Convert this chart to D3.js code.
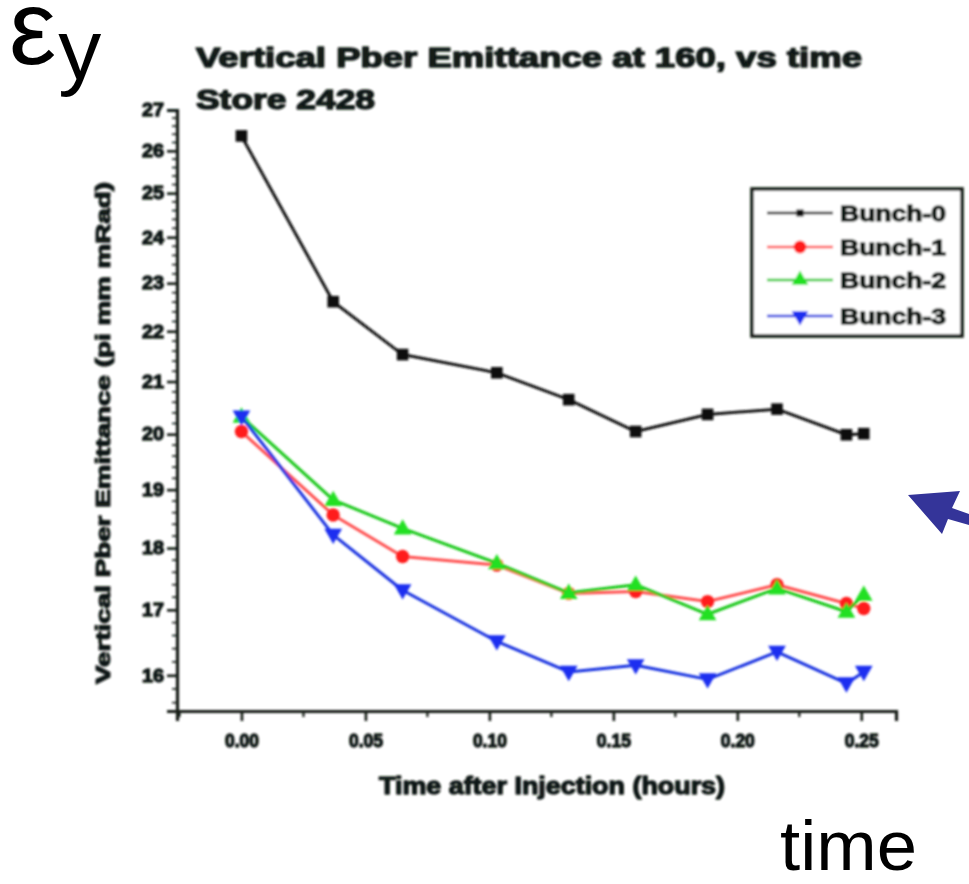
<!DOCTYPE html>
<html>
<head>
<meta charset="utf-8">
<script src="https://cdn.jsdelivr.net/npm/d3@7"></script>
<style>
  html, body { margin: 0; padding: 0; background: #ffffff; }
  svg { display: block; }
</style>
</head>
<body>
<svg id="chart" width="969" height="884"></svg>
<script>
// Measurement times (hours after injection)
const times = [0.000, 0.037, 0.065, 0.103, 0.132, 0.159, 0.188, 0.216, 0.244, 0.251];

// Vertical emittance per bunch (pi mm mRad)
const bunch0 = [26.36, 22.61, 21.53, 21.17, 20.65, 20.05, 20.37, 20.47, 19.99, 20.01];
const bunch1 = [20.05, 18.56, 17.86, 17.72, 17.26, 17.29, 17.13, 17.40, 17.10, 17.02];
const bunch2 = [20.33, 18.82, 18.33, 17.75, 17.27, 17.40, 16.93, 17.34, 16.97, 17.24];
const bunch3 = [20.33, 18.22, 17.31, 16.51, 16.05, 16.15, 15.94, 16.35, 15.88, 16.05];

const seriesNames = ["Bunch-0", "Bunch-1", "Bunch-2", "Bunch-3"];
const xTickValues = [0.00, 0.05, 0.10, 0.15, 0.20, 0.25];
const xTickLabels = ["0.00", "0.05", "0.10", "0.15", "0.20", "0.25"];
const yTickValues = [16, 17, 18, 19, 20, 21, 22, 23, 24, 25, 26, 27];

const titleLines = ["Vertical Pber Emittance  at 160, vs time", "Store 2428"];
const xTitle = "Time after Injection (hours)";
const yTitle = "Vertical Pber Emittance (pi mm mRad)";

const svg = d3.select("#chart");
const ink = "#121a14";
const font = "'Liberation Sans', Arial, sans-serif";

// Soft focus for the plotted figure
const defs = svg.append("defs");
defs.append("filter").attr("id", "soft")
  .attr("x", "-5%").attr("y", "-5%").attr("width", "110%").attr("height", "110%")
  .append("feGaussianBlur").attr("stdDeviation", 1.0);

const fig = svg.append("g").attr("filter", "url(#soft)");

// Heavy type used throughout the figure
function heavy(sel, size, strokeW) {
  return sel.attr("font-family", font).attr("font-weight", "bold").attr("font-size", size)
    .attr("fill", ink).attr("stroke", ink).attr("stroke-width", strokeW)
    .attr("stroke-linejoin", "round");
}

// Scales: linear time axis, logarithmic emittance axis
const x = d3.scaleLinear().domain([-0.026, 0.264]).range([177, 896]);
const y = d3.scaleLog().domain([15.48, 27]).range([711, 110]);

// Title
heavy(fig.append("text").attr("x", 196).attr("y", 67), 28, 1.5)
  .attr("textLength", 666).attr("lengthAdjust", "spacingAndGlyphs")
  .text(titleLines[0]);
heavy(fig.append("text").attr("x", 196).attr("y", 109), 28, 1.5)
  .attr("textLength", 179).attr("lengthAdjust", "spacingAndGlyphs")
  .text(titleLines[1]);

// Y axis (log): major ticks with labels, minor ticks between
const yMinor = d3.range(15.6, 27.0001, 0.2).filter(v => Math.abs(v - Math.round(v)) > 0.01);
const yAxisG = fig.append("g").attr("transform", "translate(177,0)");
yAxisG.selectAll("line.minor").data(yMinor).join("line")
  .attr("class", "minor")
  .attr("x1", -5).attr("x2", 0)
  .attr("y1", d => y(d)).attr("y2", d => y(d))
  .attr("stroke", ink).attr("stroke-width", 1.6);
const yAxis = d3.axisLeft(y).tickValues(yTickValues).tickFormat(d3.format("d"))
  .tickSize(10).tickPadding(3);
yAxisG.call(yAxis);
yAxisG.select(".domain").attr("stroke", ink).attr("stroke-width", 3.2);
yAxisG.selectAll(".tick line").attr("stroke", ink).attr("stroke-width", 2.6);
heavy(yAxisG.selectAll(".tick text"), 18, 1.3)
  .attr("textLength", 22).attr("lengthAdjust", "spacingAndGlyphs");

// X axis: major ticks with labels and one minor tick between
const xMinor = d3.range(-0.025, 0.264, 0.05);
const xAxisG = fig.append("g").attr("transform", "translate(0,711)");
xAxisG.selectAll("line.minor").data(xMinor).join("line")
  .attr("class", "minor")
  .attr("x1", d => x(d)).attr("x2", d => x(d))
  .attr("y1", 0).attr("y2", 6)
  .attr("stroke", ink).attr("stroke-width", 2.2);
const xAxis = d3.axisBottom(x).tickValues(xTickValues)
  .tickFormat((d, i) => xTickLabels[i]).tickSize(10).tickPadding(13);
xAxisG.call(xAxis);
xAxisG.select(".domain").attr("stroke", ink).attr("stroke-width", 3.2);
xAxisG.selectAll(".tick line").attr("stroke", ink).attr("stroke-width", 2.6);
heavy(xAxisG.selectAll(".tick text"), 18, 1.3)
  .attr("textLength", 34).attr("lengthAdjust", "spacingAndGlyphs");

// Axis titles
heavy(fig.append("text").attr("x", 552).attr("y", 794), 23, 1.3)
  .attr("text-anchor", "middle")
  .attr("textLength", 346).attr("lengthAdjust", "spacingAndGlyphs")
  .text(xTitle);
heavy(fig.append("text").attr("transform", "translate(110,433) rotate(-90)"), 20, 1.2)
  .attr("text-anchor", "middle")
  .attr("textLength", 502).attr("lengthAdjust", "spacingAndGlyphs")
  .text(yTitle);

// Series styling
const series = [
  { name: seriesNames[0], values: bunch0, line: "#141414", fill: "#111111", shape: d3.symbolSquare, size: 135, rot: 0, legendSize: 50 },
  { name: seriesNames[1], values: bunch1, line: "#ff5050", fill: "#ff1f1f", shape: d3.symbolCircle, size: 140, rot: 0, legendSize: 130 },
  { name: seriesNames[2], values: bunch2, line: "#18c818", fill: "#22e022", shape: d3.symbolTriangle, size: 135, rot: 0, legendSize: 120 },
  { name: seriesNames[3], values: bunch3, line: "#1830e0", fill: "#1a2ef0", shape: d3.symbolTriangle, size: 135, rot: 180, legendSize: 120 }
];

const lineGen = d3.line().x(d => x(d.t)).y(d => y(d.v));

series.forEach(s => {
  const pts = times.map((t, i) => ({ t: t, v: s.values[i] }));
  const g = fig.append("g");
  g.append("path").datum(pts)
    .attr("d", lineGen).attr("fill", "none")
    .attr("stroke", s.line).attr("stroke-width", 3).attr("stroke-linejoin", "round");
  g.selectAll("path.pt").data(pts).join("path")
    .attr("class", "pt")
    .attr("d", d3.symbol().type(s.shape).size(s.size))
    .attr("transform", d => `translate(${x(d.t)},${y(d.v) + (s.rot ? -1 : (s.shape === d3.symbolTriangle ? 1 : 0))}) rotate(${s.rot})`)
    .attr("fill", s.fill);
});

// Legend
const legend = fig.append("g");
legend.append("rect").attr("x", 752).attr("y", 189).attr("width", 210).attr("height", 147)
  .attr("fill", "#ffffff").attr("stroke", ink).attr("stroke-width", 3.6);
const rowY = [213, 247, 280, 316];
series.forEach((s, i) => {
  const ry = rowY[i];
  legend.append("line").attr("x1", 767).attr("x2", 833).attr("y1", ry).attr("y2", ry)
    .attr("stroke", s.line).attr("stroke-width", 2.6);
  legend.append("path")
    .attr("d", d3.symbol().type(s.shape).size(s.legendSize))
    .attr("transform", `translate(800,${ry}) rotate(${s.rot})`)
    .attr("fill", s.fill);
  heavy(legend.append("text").attr("x", 840).attr("y", ry + 8), 22, 1.3)
    .attr("textLength", 106).attr("lengthAdjust", "spacingAndGlyphs")
    .text(s.name);
});

// Slide annotations: quantity symbol, axis word, pointer arrow
const sym = svg.append("text").attr("x", 9).attr("y", 64)
  .attr("font-family", "'Liberation Sans', Arial, sans-serif").attr("font-size", 106)
  .attr("fill", "#000");
sym.append("tspan").text("ε");
sym.append("tspan").attr("font-size", 86).attr("dy", 15).attr("dx", 2).text("y");

svg.append("text").attr("x", 780).attr("y", 870)
  .attr("font-family", "'Liberation Sans', Arial, sans-serif").attr("font-size", 70)
  .attr("fill", "#000").attr("textLength", 137).attr("lengthAdjust", "spacingAndGlyphs")
  .text("time");

const arrowPts = [[908, 495], [960, 491], [952, 508], [969, 514], [969, 525], [948, 519], [942, 534]];
svg.append("polygon")
  .attr("points", arrowPts.map(p => p.join(",")).join(" "))
  .attr("fill", "#343499");
</script>
</body>
</html>
